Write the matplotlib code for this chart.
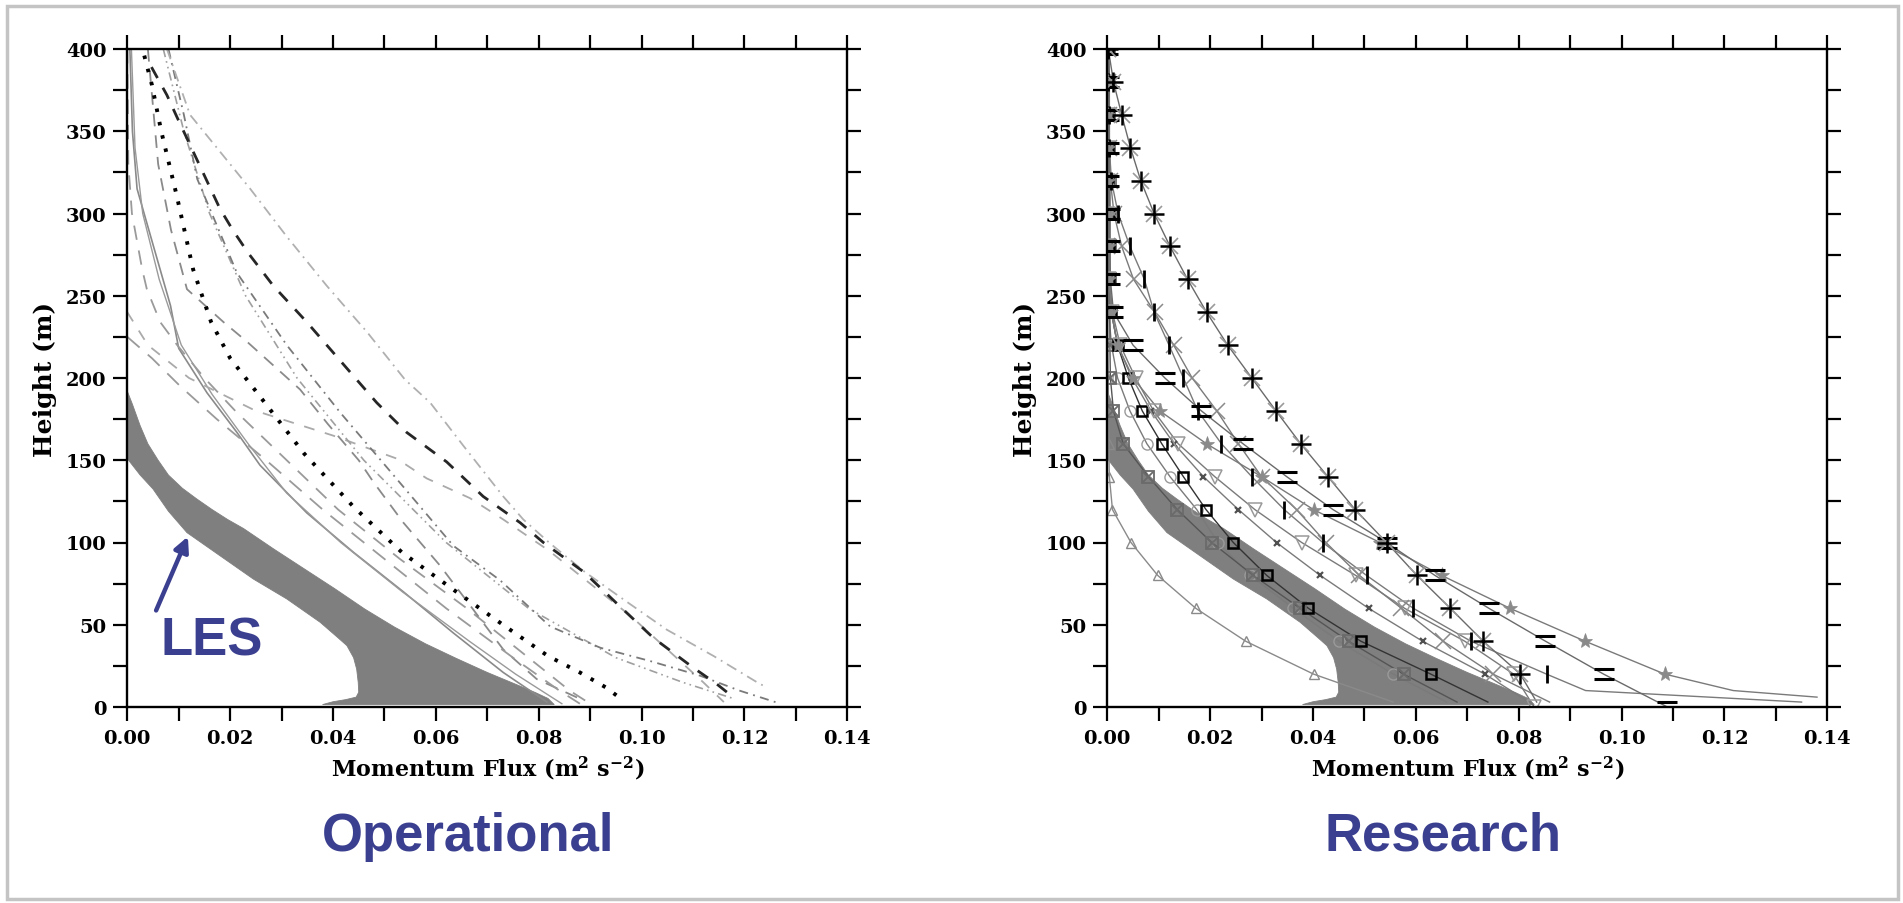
import numpy as np
import matplotlib
matplotlib.use("Agg")
import matplotlib.pyplot as plt
from matplotlib.ticker import MultipleLocator, FormatStrFormatter
from matplotlib.path import Path
from matplotlib.patches import Rectangle, FancyArrowPatch

plt.rcParams['font.family'] = ['DejaVu Serif']
plt.rcParams['font.weight'] = 'bold'
plt.rcParams['mathtext.fontset'] = 'dejavuserif'
plt.rcParams['mathtext.default'] = 'bf'

nan = np.nan

# ---------------- LES band (shared by both panels) ----------------
LES_UPPER_X = [0.0, 0.001, 0.0025, 0.004, 0.006, 0.008, 0.0107, 0.0135, 0.0165, 0.0195, 0.0226, 0.0285, 0.0344,
               0.0403, 0.0462, 0.052, 0.058, 0.064, 0.070, 0.075, 0.0794, 0.0818, 0.083]
LES_UPPER_Z = [192, 184, 171, 160, 150, 141, 133, 126.5, 120, 114, 108.5, 96, 84,
               72, 59.5, 48.5, 38.4, 29.5, 21, 14.5, 8.7, 5.2, 1.5]
LES_LOWER_X = [0.0, 0.0025, 0.005, 0.008, 0.0116, 0.018, 0.0245, 0.031, 0.0375, 0.041, 0.0427, 0.0440,
               0.0446, 0.0449, 0.0450, 0.0445, 0.0425, 0.040, 0.038]
LES_LOWER_Z = [151, 141, 132.5, 119, 106, 92, 77.8, 65.7, 51.5, 42, 37.3, 30,
               23, 15, 9, 6, 4.5, 3.2, 1.5]

# ---------------- Operational panel: profiles ----------------
OP_DOT_Z = [396, 378, 350, 311, 266, 234, 212, 192, 154, 122, 94, 70, 49, 31, 21, 12, 5]
OP_DOT_X = [0.0033, 0.0048, 0.0066, 0.0096, 0.0128, 0.0163, 0.0200, 0.0250, 0.0344, 0.0439, 0.0534, 0.0640, 0.0735, 0.0818, 0.0880, 0.0930, 0.0960]

OP_DASH_Z = [389, 372, 359, 333, 303, 290, 276, 256, 234, 199, 185, 167, 149, 128, 112, 100, 82, 62, 42, 24, 14, 8]
OP_DASH_X = [0.0047, 0.0077, 0.0096, 0.0135, 0.018, 0.0205, 0.0235, 0.0284, 0.0349, 0.0446, 0.0485, 0.0543, 0.0621, 0.0692, 0.0764, 0.0809, 0.0888, 0.0955, 0.1023, 0.110, 0.1146, 0.117]

OP_LIGHT_Z = [400, 360, 345, 315, 286, 256, 228, 199, 185, 159, 128, 114, 100, 82, 64, 47, 31, 14, 12]
OP_LIGHT_X = [0.0077, 0.0122, 0.0161, 0.0239, 0.031, 0.0388, 0.0466, 0.054, 0.0589, 0.0653, 0.0731, 0.077, 0.082, 0.089, 0.0971, 0.1049, 0.114, 0.123, 0.1244]

OP_DASHDOT_Z = [400, 360, 321, 264, 220, 179, 143, 98, 77, 49, 36, 28, 19, 10, 2]
OP_DASHDOT_X = [0.008, 0.011, 0.0136, 0.0213, 0.031, 0.0414, 0.0512, 0.0634, 0.0725, 0.0822, 0.092, 0.1016, 0.1114, 0.119, 0.127]

OP_DDOT_Z = [400, 350, 300, 250, 200, 150, 100, 60, 30, 15, 5]
OP_DDOT_X = [0.007, 0.011, 0.016, 0.023, 0.033, 0.046, 0.062, 0.078, 0.095, 0.108, 0.118]

OP_SOLID1_Z = [400, 350, 315, 280, 244, 218, 191, 167, 147, 118, 94, 70, 45, 21, 3]
OP_SOLID1_X = [0.0005, 0.001, 0.0019, 0.0051, 0.0084, 0.010, 0.0155, 0.0213, 0.0258, 0.0349, 0.044, 0.0537, 0.0634, 0.0731, 0.0816]

OP_SOLID2_Z = [400, 340, 300, 260, 220, 190, 160, 130, 100, 70, 40, 20, 2]
OP_SOLID2_X = [0.0008, 0.0015, 0.003, 0.0062, 0.0105, 0.0165, 0.0235, 0.031, 0.0415, 0.0535, 0.0665, 0.0755, 0.0845]

OP_LDASH1_Z = [400, 330, 300, 266, 254, 234, 220, 200, 180, 150, 120, 90, 60, 30, 10, 2]
OP_LDASH1_X = [0.0, 0.0002, 0.0009, 0.0029, 0.0038, 0.0064, 0.0097, 0.015, 0.021, 0.031, 0.041, 0.053, 0.066, 0.078, 0.086, 0.090]

OP_LDASH2_Z = [400, 330, 290, 254, 234, 222, 213, 193, 172, 150, 137, 112, 86, 62, 35, 17, 5]
OP_LDASH2_X = [0.004, 0.006, 0.0085, 0.0116, 0.0187, 0.0233, 0.0265, 0.0336, 0.039, 0.045, 0.0478, 0.0537, 0.0608, 0.0666, 0.0731, 0.0796, 0.088]

OP_LDASH3_Z = [240, 220, 200, 180, 165, 151, 139, 127, 114, 95, 75, 55, 35, 15, 3]
OP_LDASH3_X = [0.0, 0.004, 0.012, 0.025, 0.040, 0.0524, 0.0582, 0.0666, 0.0731, 0.082, 0.090, 0.098, 0.105, 0.112, 0.116]

OP_LDASH4_Z = [225, 212, 195, 175, 150, 120, 90, 60, 30, 10, 2]
OP_LDASH4_X = [0.0, 0.0048, 0.0103, 0.0174, 0.027, 0.038, 0.050, 0.062, 0.075, 0.084, 0.088]

# ---------------- Research panel: profiles on a common height grid ----------------
RS_Z = [0, 3, 6, 10, 20, 40, 60, 80, 100, 120, 140, 160, 180, 200, 220, 240, 260, 280, 300, 320, 340, 360, 380, 400]

RS_ASTER = [nan, 0.0835, nan, nan, 0.0803, 0.0731, 0.0667, 0.0602, 0.0543, 0.0482, 0.0429, 0.0376, 0.0328, 0.0281, 0.0234, 0.0193, 0.0156, 0.0122, 0.0091, 0.0065, 0.0045, 0.0028, 0.0012, 0.0002]
RS_EQUAL = [0.1089, nan, nan, nan, 0.0965, 0.0852, 0.0742, 0.0637, 0.0543, 0.0439, 0.0349, 0.0264, 0.0183, 0.0112, 0.0050, 0.0012, 0.0006, 0.0005, 0.0005, 0.0004, 0.0004, 0.0004, 0.0003, 0.0002]
RS_BAR = [nan, 0.135, nan, 0.093, 0.0854, 0.0707, 0.0595, 0.0504, 0.0419, 0.0344, 0.0281, 0.0222, 0.0176, 0.0148, 0.0120, 0.0091, 0.0072, 0.0044, 0.0021, 0.0008, 0.0004, 0.0003, 0.0002, 0.0001]
RS_BIGX = [nan, 0.086, nan, nan, 0.0750, 0.0653, 0.0572, 0.0490, 0.0425, 0.0368, 0.0300, 0.0255, 0.0213, 0.0165, 0.0129, 0.0092, 0.0051, 0.0028, 0.0013, 0.0006, 0.0004, 0.0003, 0.0002, 0.0001]
RS_SMALLX = [nan, 0.082, nan, nan, 0.0734, 0.0613, 0.0508, 0.0414, 0.0329, 0.0255, 0.0187, 0.0130, 0.0085, 0.0048, 0.0020, 0.0008, 0.0004, 0.0003, 0.0002, 0.0002, 0.0001, 0.0001, 0.0001, 0.0001]
RS_TRIDOWN = [0.0830, nan, nan, nan, 0.0790, 0.0695, 0.0578, 0.0483, 0.0378, 0.0287, 0.0209, 0.0138, 0.0090, 0.0055, 0.0025, 0.0010, 0.0004, 0.0003, 0.0002, 0.0002, 0.0001, 0.0001, 0.0001, 0.0001]
RS_STAR = [nan, nan, 0.138, 0.1217, 0.1084, 0.0929, 0.0783, 0.0650, 0.0530, 0.0401, 0.0300, 0.0193, 0.0102, 0.0050, 0.0020, 0.0008, 0.0004, 0.0003, 0.0002, 0.0002, 0.0001, 0.0001, 0.0001, 0.0001]
RS_SQUARE = [nan, 0.074, nan, nan, 0.0629, 0.0493, 0.0391, 0.0310, 0.0245, 0.0192, 0.0148, 0.0106, 0.0068, 0.0041, 0.0020, 0.0008, 0.0004, 0.0003, 0.0003, 0.0002, 0.0002, 0.0002, 0.0001, 0.0001]
RS_BOXX = [nan, 0.068, nan, nan, 0.0576, 0.0469, 0.0375, 0.0284, 0.0203, 0.0136, 0.0080, 0.0031, 0.0012, 0.0006, 0.0005, 0.0005, 0.0005, 0.0005, 0.0005, 0.0005, 0.0004, 0.0004, 0.0004, 0.0003]
RS_CIRCLE = [nan, 0.066, nan, nan, 0.0556, 0.0450, 0.0362, 0.0278, 0.0215, 0.0174, 0.0122, 0.0077, 0.0044, 0.0020, 0.0008, 0.0003, 0.0002, 0.0002, 0.0001, 0.0001, 0.0001, 0.0001, 0.0001, 0.0001]
RS_TRIUP = [nan, 0.0556, nan, nan, 0.0401, 0.0269, 0.0172, 0.0098, 0.0046, 0.0010, 0.0004, 0.0003, 0.0002, 0.0002, 0.0001, 0.0001, 0.0001, 0.0001, 0.0001, 0.0001, 0.0001, 0.0001, 0.0001, 0.0001]

X_TICKS = [0.00, 0.02, 0.04, 0.06, 0.08, 0.10, 0.12, 0.14]
Y_TICKS = [0, 50, 100, 150, 200, 250, 300, 350, 400]
XLABEL = 'Momentum Flux (m$^{2}$ s$^{-2}$)'
YLABEL = 'Height (m)'
PANEL_TITLES = ['Operational', 'Research']
ANNOT = 'LES'

BLUE = '#3b3f8f'
W, H = 1903, 904
fig = plt.figure(figsize=(W / 100, H / 100), dpi=100)
fig.patch.set_facecolor('white')

ax_l = fig.add_axes([127.3 / W, 1 - 708 / H, 720 / W, 658 / H])
ax_r = fig.add_axes([1107.3 / W, 1 - 708 / H, 720 / W, 658 / H])


def band(ax):
    xs = list(LES_UPPER_X) + list(LES_LOWER_X[::-1])
    zs = list(LES_UPPER_Z) + list(LES_LOWER_Z[::-1])
    ax.fill(xs, zs, color='#7f7f7f', lw=0.6, ec='#7f7f7f', zorder=1, joinstyle='round')


def style_axes(ax):
    ax.set_xlim(0, 0.14)
    ax.set_ylim(0, 400)
    ax.set_xticks(X_TICKS)
    ax.set_yticks(Y_TICKS)
    ax.xaxis.set_minor_locator(MultipleLocator(0.01))
    ax.yaxis.set_minor_locator(MultipleLocator(25))
    ax.xaxis.set_major_formatter(FormatStrFormatter('%.2f'))
    ax.tick_params(which='both', direction='out', length=10, width=1.6,
                   top=True, right=True, labelsize=14, colors='black')
    ax.tick_params(axis='x', pad=6)
    ax.tick_params(axis='y', pad=5)
    for sp in ax.spines.values():
        sp.set_linewidth(1.7)
        sp.set_zorder(10)
    ax.set_xlabel(XLABEL, fontsize=16, fontweight='bold', labelpad=5)
    ax.set_ylabel(YLABEL, fontsize=18, fontweight='bold', labelpad=6)


# ---------------- Operational ----------------
band(ax_l)
op_lines = [
    (OP_SOLID1_X, OP_SOLID1_Z, dict(color='#8a8a8a', lw=1.2, ls='-')),
    (OP_SOLID2_X, OP_SOLID2_Z, dict(color='#9a9a9a', lw=1.0, ls='-')),
    (OP_LDASH1_X, OP_LDASH1_Z, dict(color='#9a9a9a', lw=1.3, ls=(0, (8, 6)))),
    (OP_LDASH2_X, OP_LDASH2_Z, dict(color='#8a8a8a', lw=1.3, ls=(0, (7, 5)))),
    (OP_LDASH3_X, OP_LDASH3_Z, dict(color='#aaaaaa', lw=1.3, ls=(0, (6, 6)))),
    (OP_LDASH4_X, OP_LDASH4_Z, dict(color='#9a9a9a', lw=1.3, ls=(0, (9, 6)))),
    (OP_DDOT_X, OP_DDOT_Z, dict(color='#a0a0a0', lw=1.2, ls=(0, (5, 2.5, 1, 2.5, 1, 2.5)))),
    (OP_DASHDOT_X, OP_DASHDOT_Z, dict(color='#7a7a7a', lw=1.3, ls=(0, (5, 3, 1, 3)))),
    (OP_LIGHT_X, OP_LIGHT_Z, dict(color='#b0b0b0', lw=1.3, ls=(0, (6, 3, 1, 3)))),
    (OP_DASH_X, OP_DASH_Z, dict(color='#262626', lw=2.0, ls=(0, (4.5, 4)))),
    (OP_DOT_X, OP_DOT_Z, dict(color='black', lw=2.8, ls=(0, (0.9, 2.6)))),
]
for xs, zs, kw in op_lines:
    ax_l.plot(xs, zs, zorder=3, **kw)
style_axes(ax_l)

# ---------------- Research ----------------
band(ax_r)
z_r = np.array(RS_Z, dtype=float)
EQ = Path([(-1, 0.45), (1, 0.45), (-1, -0.45), (1, -0.45)],
          [Path.MOVETO, Path.LINETO, Path.MOVETO, Path.LINETO])

rs_series = [
    (RS_TRIUP, '#8a8a8a', [dict(marker='^', ms=7, mfc='none', mec='#8a8a8a', mew=1.0)]),
    (RS_CIRCLE, '#7a7a7a', [dict(marker='o', ms=8, mfc='none', mec='#9a9a9a', mew=1.0)]),
    (RS_BOXX, '#555555', [dict(marker='s', ms=8, mfc='none', mec='#6a6a6a', mew=1.3),
                          dict(marker='x', ms=7, mec='#6a6a6a', mew=1.3)]),
    (RS_SQUARE, '#333333', [dict(marker='s', ms=7, mfc='none', mec='black', mew=1.8)]),
    (RS_SMALLX, '#7a7a7a', [dict(marker='x', ms=5, mec='#505050', mew=1.6)]),
    (RS_TRIDOWN, '#7a7a7a', [dict(marker='v', ms=10, mfc='none', mec='#9a9a9a', mew=1.1)]),
    (RS_BIGX, '#7a7a7a', [dict(marker='x', ms=11, mec='#8a8a8a', mew=1.1)]),
    (RS_BAR, '#7a7a7a', [dict(marker='|', ms=13, mec='black', mew=2.0)]),
    (RS_STAR, '#7a7a7a', [dict(marker='*', ms=11, mfc='#8a8a8a', mec='#8a8a8a', mew=0.5)]),
    (RS_EQUAL, '#6a6a6a', [dict(marker=EQ, ms=15, mec='black', mew=2.2)]),
    (RS_ASTER, '#6a6a6a', [dict(marker='x', ms=11, mec='#9a9a9a', mew=1.2),
                           dict(marker='+', ms=15, mec='black', mew=1.8)]),
]
for vals, lcol, mks in rs_series:
    v = np.array(vals, dtype=float)
    m = ~np.isnan(v)
    ax_r.plot(v[m], z_r[m], color=lcol, lw=1.0, zorder=3)
    mm = m & (np.mod(z_r, 20) == 0)
    for mk in mks:
        ax_r.plot(v[mm], z_r[mm], ls='none', zorder=4, **mk)
style_axes(ax_r)

# ---------------- annotations ----------------
fig.text(468 / W, 1 - 851 / H, PANEL_TITLES[0], ha='center', va='baseline',
         fontsize=38, fontweight='bold', color=BLUE, family='Liberation Sans')
fig.text(1443 / W, 1 - 851 / H, PANEL_TITLES[1], ha='center', va='baseline',
         fontsize=38, fontweight='bold', color=BLUE, family='Liberation Sans')
fig.text(161 / W, 1 - 656 / H, ANNOT, ha='left', va='baseline',
         fontsize=38, fontweight='bold', color=BLUE, family='Liberation Sans')
arrow = FancyArrowPatch((155 / W, 1 - 614 / H), (189 / W, 1 - 535 / H),
                        transform=fig.transFigure, arrowstyle='-|>',
                        mutation_scale=22, lw=3.2, color=BLUE)
fig.add_artist(arrow)

frame = Rectangle((6.5 / W, 4 / H), 1891 / W, 893 / H, transform=fig.transFigure,
                  fill=False, edgecolor='#c4c4c4', lw=2.5)
fig.add_artist(frame)

fig.savefig('out.png', dpi=100, facecolor='white')
